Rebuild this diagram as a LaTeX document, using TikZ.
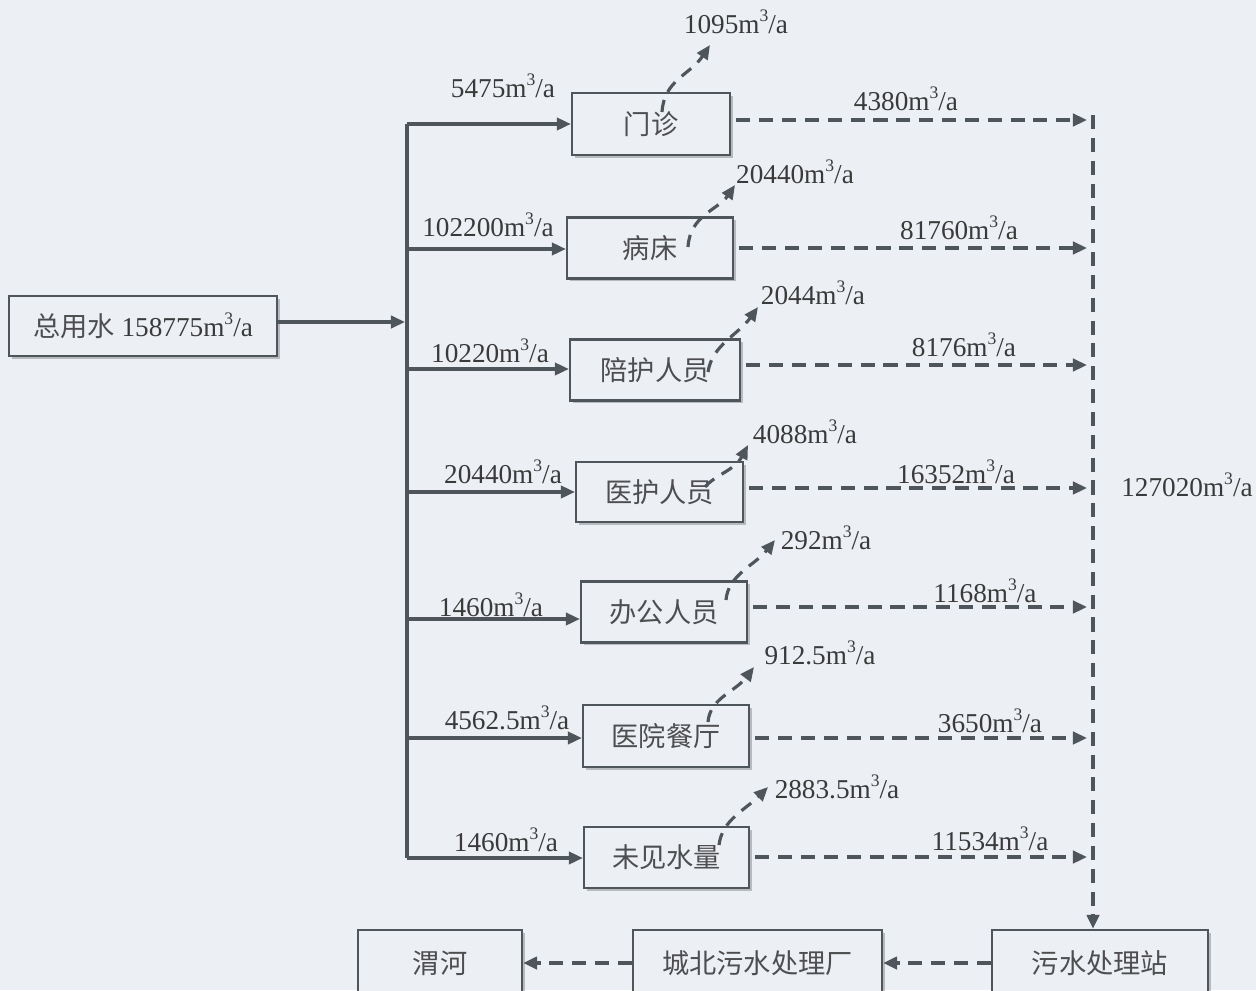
\documentclass[tikz,border=0pt]{standalone}
\usepackage{fontspec}
\setmainfont{Liberation Serif}
\newfontfamily\cjk{Noto Sans CJK SC}
\usetikzlibrary{arrows.meta,shadows}
\definecolor{bgc}{RGB}{236,240,244}
\definecolor{lnc}{RGB}{78,86,92}
\definecolor{txc}{RGB}{58,58,58}
\definecolor{cjc}{RGB}{78,78,80}
\newcommand\cubsup{\raisebox{0.42em}{\fontsize{10}{10}\selectfont 3}}
\begin{document}
\begin{tikzpicture}[x=0.02cm,y=-0.02cm,
 box/.style={draw=lnc, line width=1.3pt, fill=bgc, text=cjc, font=\fontsize{15.5}{18}\selectfont, inner sep=0pt,
   drop shadow={shadow xshift=1.5pt,shadow yshift=-1.5pt,fill=black,opacity=0.22}},
 flow/.style={draw=lnc, line width=1.8pt, -{Triangle[length=8pt,width=7pt]}},
 dflow/.style={draw=lnc, line width=2pt, dash pattern=on 8pt off 5pt, -{Triangle[length=8pt,width=7pt]}},
 eflow/.style={draw=lnc, line width=1.8pt, dash pattern=on 7pt off 5pt, -{Triangle[length=8pt,width=7pt]}},
 lab/.style={text=txc, font=\fontsize{15.5}{18}\selectfont, inner sep=0pt},
]
\fill[bgc] (0,0) rectangle (1256,990);
\clip (0,0) rectangle (1256,990);

% boxes
\node[box, minimum width=5.36cm, minimum height=1.2cm] (tot) at (143,326) {{\cjk 总用水} {\color{txc}158775m\cubsup/a}};
\node[box, minimum width=3.16cm, minimum height=1.24cm] (n1) at (651,124) {\cjk 门诊};
\node[box, minimum width=3.32cm, minimum height=1.22cm] (n2) at (650,248) {\cjk 病床};
\node[box, minimum width=3.40cm, minimum height=1.22cm] (n3) at (655,370) {\cjk 陪护人员};
\node[box, minimum width=3.34cm, minimum height=1.20cm] (n4) at (659.5,492) {\cjk 医护人员};
\node[box, minimum width=3.32cm, minimum height=1.22cm] (n5) at (664,612) {\cjk 办公人员};
\node[box, minimum width=3.32cm, minimum height=1.24cm] (n6) at (666,736) {\cjk 医院餐厅};
\node[box, minimum width=3.30cm, minimum height=1.22cm] (n7) at (666.5,857.5) {\cjk 未见水量};
\node[box, minimum width=3.28cm, minimum height=1.32cm] (wh) at (440,963) {\cjk 渭河};
\node[box, minimum width=4.98cm, minimum height=1.32cm] (cb) at (757.5,963) {\cjk 城北污水处理厂};
\node[box, minimum width=4.32cm, minimum height=1.32cm] (ws) at (1100,963) {\cjk 污水处理站};

% trunk
\coordinate (t1) at (407,124);
\coordinate (t2) at (407,249);
\coordinate (t3) at (407,369);
\coordinate (t4) at (407,492);
\coordinate (t5) at (407,619);
\coordinate (t6) at (407,738);
\coordinate (t7) at (407,858);
\coordinate (tj) at (405,322);
\draw[draw=lnc, line width=1.8pt] (t1) -- (t7);
\draw[flow] (tot.east |- tj) -- (tj);
\draw[flow] (t1) -- (t1 -| n1.west);
\draw[flow] (t2) -- (t2 -| n2.west);
\draw[flow] (t3) -- (t3 -| n3.west);
\draw[flow] (t4) -- (t4 -| n4.west);
\draw[flow] (t5) -- (t5 -| n5.west);
\draw[flow] (t6) -- (t6 -| n6.west);
\draw[flow] (t7) -- (t7 -| n7.west);

% outflows
\coordinate (o1) at (1087,120);
\coordinate (o2) at (1087,248);
\coordinate (o3) at (1087,365);
\coordinate (o4) at (1087,488);
\coordinate (o5) at (1087,607);
\coordinate (o6) at (1087,738);
\coordinate (o7) at (1087,857);
\draw[dflow, shorten <=3pt] (n1.east |- o1) -- (o1);
\draw[dflow, shorten <=3pt] (n2.east |- o2) -- (o2);
\draw[dflow, shorten <=3pt] (n3.east |- o3) -- (o3);
\draw[dflow, shorten <=3pt] (n4.east |- o4) -- (o4);
\draw[dflow, shorten <=3pt] (n5.east |- o5) -- (o5);
\draw[dflow, shorten <=3pt] (n6.east |- o6) -- (o6);
\draw[dflow, shorten <=3pt] (n7.east |- o7) -- (o7);
\coordinate (vt) at (1093,115);
\draw[dflow] (vt) -- (vt |- ws.north);
\draw[dflow] (ws.west) -- (cb.east);
\draw[dflow] (cb.west) -- (wh.east);

% evaporation
\coordinate (s1) at (662,112); \coordinate (e1) at (710,45);
\coordinate (s2) at (688,247); \coordinate (e2) at (735,185);
\coordinate (s3) at (708,372); \coordinate (e3) at (758,307);
\coordinate (s4) at (705,487); \coordinate (e4) at (748,445);
\coordinate (s5) at (726,600); \coordinate (e5) at (775,540);
\coordinate (s6) at (708,722); \coordinate (e6) at (754,667);
\coordinate (s7) at (719,845); \coordinate (e7) at (768,787);
\draw[eflow] (s1) .. controls (664,80) and (690,75) .. (e1);
\draw[eflow] (s2) .. controls (690,215) and (718,210) .. (e2);
\draw[eflow] (s3) .. controls (712,345) and (738,335) .. (e3);
\draw[eflow] (s4) .. controls (715,475) and (735,470) .. (e4);
\draw[eflow] (s5) .. controls (728,575) and (755,565) .. (e5);
\draw[eflow] (s6) .. controls (710,698) and (735,692) .. (e6);
\draw[eflow] (s7) .. controls (722,820) and (745,810) .. (e7);

% labels
\node[lab] (a1) at (503,86) {5475m\cubsup/a};
\node[lab] (a2) at (488,225) {102200m\cubsup/a};
\node[lab] (a3) at (490,351) {10220m\cubsup/a};
\node[lab] (a4) at (503,472) {20440m\cubsup/a};
\node[lab] (a5) at (491,605) {1460m\cubsup/a};
\node[lab] (a6) at (507,718) {4562.5m\cubsup/a};
\node[lab] (a7) at (506,840) {1460m\cubsup/a};

\node[lab] (b1) at (906,99) {4380m\cubsup/a};
\node[lab] (b2) at (959,228) {81760m\cubsup/a};
\node[lab] (b3) at (964,345) {8176m\cubsup/a};
\node[lab] (b4) at (956,472) {16352m\cubsup/a};
\node[lab] (b5) at (985,591) {1168m\cubsup/a};
\node[lab] (b6) at (990,721) {3650m\cubsup/a};
\node[lab] (b7) at (990,839) {11534m\cubsup/a};

\node[lab] (c1) at (736,22) {1095m\cubsup/a};
\node[lab] (c2) at (795,172) {20440m\cubsup/a};
\node[lab] (c3) at (813,293) {2044m\cubsup/a};
\node[lab] (c4) at (805,432) {4088m\cubsup/a};
\node[lab] (c5) at (826,538) {292m\cubsup/a};
\node[lab] (c6) at (820,653) {912.5m\cubsup/a};
\node[lab] (c7) at (837,787) {2883.5m\cubsup/a};

\node[lab] (tot2) at (1187,485) {127020m\cubsup/a};
\end{tikzpicture}
\end{document}
